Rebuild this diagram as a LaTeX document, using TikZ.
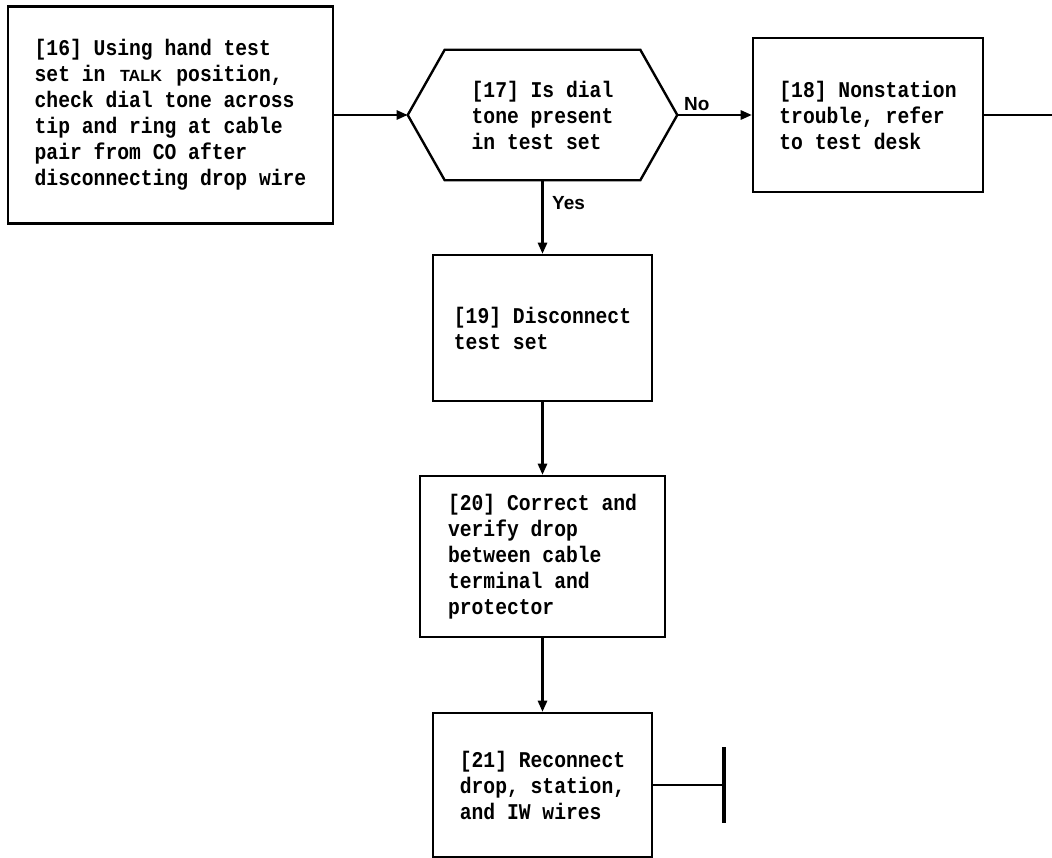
\documentclass[tikz,border=0pt]{standalone}
\usepackage{fontspec}
\setmonofont{Liberation Mono}[FakeStretch=0.875]
\setsansfont{Liberation Sans}
\usetikzlibrary{arrows.meta}
\tikzset{
  steptext/.style={align=left, inner sep=0pt, font=\ttfamily\bfseries\fontsize{16}{18.5}\selectfont},
  stepbox/.style={steptext, draw, line width=1.7pt, fill=white},
  flowline/.style={-{Triangle[length=2.8mm, width=2.3mm]}, line width=1.7pt},
  answer/.style={font=\sffamily\bfseries\fontsize{13.5}{16}\selectfont, inner sep=2pt}
}
\newcommand{\talkkey}{\makebox[2.1em]{\sffamily\bfseries\fontsize{11.5}{12}\selectfont TALK}}

\begin{document}
\begin{tikzpicture}[line join=miter]
  \useasboundingbox (0,0) rectangle (26.3,-21.45);

  % steps
  \node[stepbox, minimum width=8.125cm, minimum height=5.425cm] (b16) at (4.2625,-2.875)
    {[16] Using hand test\\set in \talkkey{} position,\\check dial tone across\\tip and ring at cable\\pair from CO after\\disconnecting drop wire};
  \node[steptext, minimum width=6.725cm, minimum height=3.25cm] (q17) at (13.5625,-2.875)
    {[17] Is dial\\tone present\\in test set};
  \node[stepbox, minimum width=5.75cm, minimum height=3.85cm] (b18) at (21.7,-2.875)
    {[18] Nonstation\\trouble, refer\\to test desk};
  \node[stepbox, minimum width=5.475cm, minimum height=3.65cm] (b19) at (13.5625,-8.2)
    {[19] Disconnect\\test set};
  \node[stepbox, minimum width=6.125cm, minimum height=4.025cm] (b20) at (13.5625,-13.9125)
    {[20] Correct and\\verify drop\\between cable\\terminal and\\protector};
  \node[stepbox, minimum width=5.475cm, minimum height=3.6cm] (b21) at (13.5625,-19.625)
    {[21] Reconnect\\drop, station,\\and IW wires};

  % decision outline
  \draw[line width=1.7pt] (q17.west) -- ([xshift=0.925cm]q17.north west) -- ([xshift=-0.925cm]q17.north east)
    -- (q17.east) -- ([xshift=-0.925cm]q17.south east) -- ([xshift=0.925cm]q17.south west) -- cycle;

  \coordinate (out18) at (26.3,-2.875);
  \coordinate (bar) at (18.1,-19.625);

  % connectors
  \draw[flowline] (b16.east) -- (q17.west);
  \draw[flowline] (q17.east) -- node[answer, pos=0, above right, xshift=2pt] {No} (b18.west);
  \draw[line width=1.7pt] (b18.east) -- (out18);
  \draw[flowline] (q17.south) -- node[answer, pos=0.31, right, xshift=4pt] {Yes} (b19.north);
  \draw[flowline] (b19.south) -- (b20.north);
  \draw[flowline] (b20.south) -- (b21.north);
  \draw[line width=1.7pt] (b21.east) -- (bar);
  \draw[line width=3pt] ([yshift=0.95cm]bar) -- ([yshift=-0.95cm]bar);
\end{tikzpicture}
\end{document}
